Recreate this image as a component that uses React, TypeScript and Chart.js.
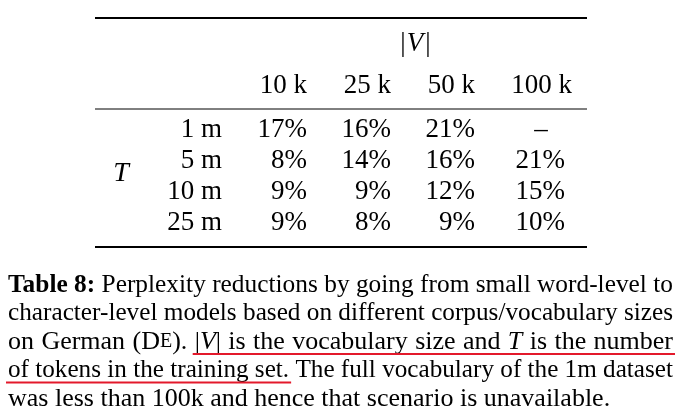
import React, { useEffect, useRef } from "react";
import { Chart, registerables } from "chart.js";

Chart.register(...registerables);

// table data
const vocabSizes = ["10 k", "25 k", "50 k", "100 k"];
const corpusSizes = ["1 m", "5 m", "10 m", "25 m"];
const row1m = [17, 16, 21, null];
const row5m = [8, 14, 16, 21];
const row10m = [9, 9, 12, 15];
const row25m = [9, 8, 9, 10];
const rows = [row1m, row5m, row10m, row25m];

type Piece = [string, string];
const plain = (s: string) => s.split(" ").map((w) => [[w, "n"]] as Piece[]);
// caption lines, each word is a list of [text, style]
const captionLines: Piece[][][] = [
  [[["Table", "b"]], [["8:", "b"]], ...plain("Perplexity reductions by going from small word-level to")],
  plain("character-level models based on different corpus/vocabulary sizes"),
  [
    [["on", "n"]], [["German", "n"]], [["(", "n"], ["D", "n"], ["E", "sc"], [").", "n"]],
    [["|", "n"], ["V", "i"], ["|", "n"]],
    ...plain("is the vocabulary size and"),
    [["T", "i"]],
    ...plain("is the number"),
  ],
  plain("of tokens in the training set. The full vocabulary of the 1m dataset"),
  plain("was less than 100k and hence that scenario is unavailable."),
];
// which words are underlined in red: [line, firstWord, lastWord]
const underlines = [
  [2, 3, 12],
  [3, 0, 5],
];

const SERIF = '"Liberation Serif", "DejaVu Serif", serif';
const capFont = (s: string) =>
  s === "b" ? `bold 26px ${SERIF}` : s === "i" ? `italic 26px ${SERIF}` : s === "sc" ? `20px ${SERIF}` : `26px ${SERIF}`;

const tablePlugin = {
  id: "tablePlugin",
  afterDraw(chart: Chart) {
    const { ctx } = chart;
    const x = chart.scales.x;
    const y = chart.scales.y;
    const X = (v: number) => x.getPixelForValue(v);
    const Y = (v: number) => y.getPixelForValue(v);
    ctx.save();
    ctx.fillStyle = "#000";
    ctx.textBaseline = "middle";
    const txt = (s: string, px: number, py: number, align: CanvasTextAlign, font: string) => {
      ctx.font = font;
      ctx.textAlign = align;
      ctx.fillText(s, X(px), Y(py));
    };
    const rule = (yv: number, x0: number, x1: number, w: number) => {
      ctx.beginPath();
      ctx.lineWidth = w;
      ctx.strokeStyle = "#000";
      ctx.moveTo(X(x0), Y(yv));
      ctx.lineTo(X(x1), Y(yv));
      ctx.stroke();
    };
    const f = `27px ${SERIF}`;
    rule(18, 95, 587, 2);
    rule(109, 95, 587, 1);
    rule(247, 95, 587, 2);

    txt("|", 403, 44, "center", f);
    txt("V", 415, 44, "center", `italic 27px ${SERIF}`);
    txt("|", 428, 44, "center", f);

    const colRight = [307, 391, 475, 565];
    const headRight = [307, 391, 475, 572];
    vocabSizes.forEach((v, i) => txt(v, headRight[i], 86, "right", f));
    const rowY = [130, 161, 192, 223];
    corpusSizes.forEach((c, r) => {
      txt(c, 222, rowY[r], "right", f);
      rows[r].forEach((v, i) => {
        if (v === null) txt("–", 541, rowY[r], "center", f);
        else txt(`${v}%`, colRight[i], rowY[r], "right", f);
      });
    });
    txt("T", 121, 174, "center", `italic 28px ${SERIF}`);

    // caption, justified
    const left = 8;
    const right = 673;
    const lineY = [285, 313.5, 342, 370.5, 399];
    captionLines.forEach((words, li) => {
      const widths = words.map((w) =>
        w.reduce((acc, [t, s]) => {
          ctx.font = capFont(s);
          return acc + ctx.measureText(t).width;
        }, 0)
      );
      const total = widths.reduce((a, b) => a + b, 0);
      const last = li === captionLines.length - 1;
      const sp = 6.5;
      let scale = 1;
      let gap = sp;
      const avail = X(right) - X(left);
      if (total + sp * (words.length - 1) > avail) {
        scale = avail / (total + sp * (words.length - 1));
      } else if (!last) {
        gap = (avail - total) / (words.length - 1);
      }
      let cx = X(left);
      const starts: number[] = [];
      const ends: number[] = [];
      words.forEach((w) => {
        starts.push(cx);
        w.forEach(([t, s]) => {
          ctx.save();
          ctx.font = capFont(s);
          ctx.textAlign = "left";
          ctx.translate(cx, Y(lineY[li]));
          ctx.scale(scale, 1);
          ctx.fillText(t, 0, 0);
          cx += ctx.measureText(t).width * scale;
          ctx.restore();
        });
        ends.push(cx);
        cx += gap * scale;
      });
      underlines
        .filter((u) => u[0] === li)
        .forEach(([, a, b]) => {
          ctx.beginPath();
          ctx.strokeStyle = "#e3192b";
          ctx.lineWidth = 2;
          ctx.moveTo(starts[a] - 2, Y(lineY[li] + 12));
          ctx.lineTo(ends[b] + 2, Y(lineY[li] + 12));
          ctx.stroke();
        });
    });
    ctx.restore();
  },
};

export default function App() {
  const canvasRef = useRef<HTMLCanvasElement | null>(null);

  useEffect(() => {
    document.body.style.margin = "0";
    document.body.style.background = "#fff";
    if (!canvasRef.current) return;
    const chart = new Chart(canvasRef.current, {
      type: "scatter",
      data: { datasets: [{ data: [], pointRadius: 0 }] },
      options: {
        animation: false,
        responsive: false,
        layout: { padding: 0 },
        plugins: { legend: { display: false }, tooltip: { enabled: false } },
        scales: {
          x: { type: "linear", min: 0, max: 687, display: false },
          y: { type: "linear", min: 0, max: 417, reverse: true, display: false },
        },
      },
      plugins: [tablePlugin],
    });
    return () => chart.destroy();
  }, []);

  return (
    <div style={{ width: 687, height: 417, background: "#fff" }}>
      <canvas ref={canvasRef} width={687} height={417} style={{ width: 687, height: 417 }} />
    </div>
  );
}
